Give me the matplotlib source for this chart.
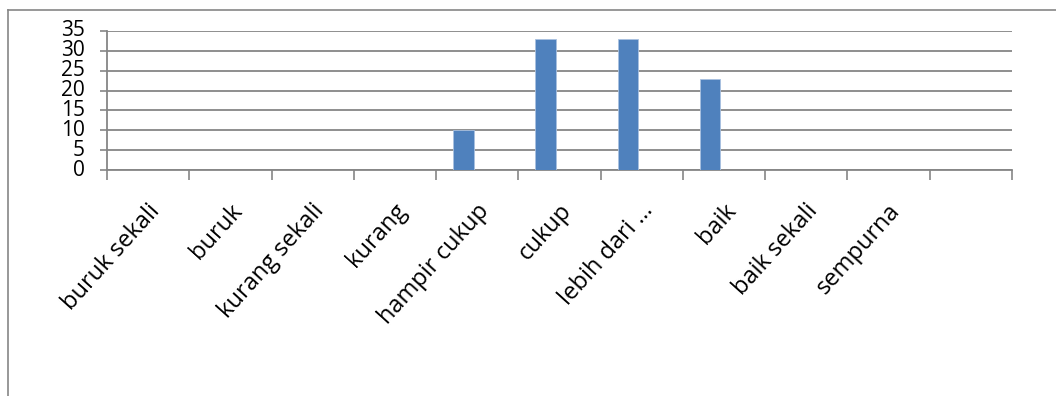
import matplotlib
matplotlib.use("Agg")
import matplotlib.pyplot as plt
import matplotlib.transforms as mtransforms
from matplotlib.lines import Line2D
import numpy as np

plt.rcParams['font.family'] = ['Open Sans', 'DejaVu Sans']

# data
kategori = ['buruk sekali', 'buruk', 'kurang sekali', 'kurang', 'hampir cukup',
            'cukup', 'lebih dari …', 'baik', 'baik sekali', 'sempurna']
nilai = [0, 0, 0, 0, 10, 33, 33, 23, 0, 0]
n_slot = 11  # satu slot kosong di kanan
y_ticks = [0, 5, 10, 15, 20, 25, 30, 35]

W, H = 1056, 396
fig = plt.figure(figsize=(W / 100, H / 100), dpi=100)
ax = fig.add_axes([107 / W, 1 - 170 / H, (1012 - 107) / W, (170 - 31) / H])

abu = '#868686'
x = np.arange(len(kategori))
ax.bar(x + 0.5 - 0.17, nilai, width=0.25, color='#4F81BD',
       edgecolor='#a9c1e0', linewidth=0.6, zorder=3)

ax.set_xlim(0, n_slot)
ax.set_ylim(0, 35)
ax.set_yticks(y_ticks)
ax.yaxis.grid(True, color=abu, linewidth=1.3, zorder=0)
ax.set_axisbelow(True)

ax.set_xticks(np.arange(n_slot + 1))
ax.set_xticklabels([])
ax.tick_params(axis='x', direction='out', length=7.5, width=1.2, color=abu)
ax.tick_params(axis='y', direction='out', length=5, width=1.2, color=abu,
               labelsize=15, pad=11)
for lbl in ax.get_yticklabels():
    lbl.set_verticalalignment('center')

for s in ['top', 'right']:
    ax.spines[s].set_visible(False)
for s in ['left', 'bottom']:
    ax.spines[s].set_color(abu)
    ax.spines[s].set_linewidth(1.3)

# label kategori miring
off = mtransforms.ScaledTranslation(-1 / 100, -29 / 100, fig.dpi_scale_trans)
for i, k in enumerate(kategori):
    ax.text(i + 0.5, 0, k, transform=ax.get_xaxis_transform() + off,
            rotation=48, rotation_mode='anchor', ha='right', va='top',
            fontsize=17)

# bingkai luar
fig.add_artist(Line2D([8 / W, 8 / W], [0, 1 - 10 / H], color=abu, lw=1.2,
                      transform=fig.transFigure))
fig.add_artist(Line2D([8 / W, 1], [1 - 10 / H, 1 - 10 / H], color=abu, lw=1.2,
                      transform=fig.transFigure))

fig.savefig('out.png', dpi=100)
